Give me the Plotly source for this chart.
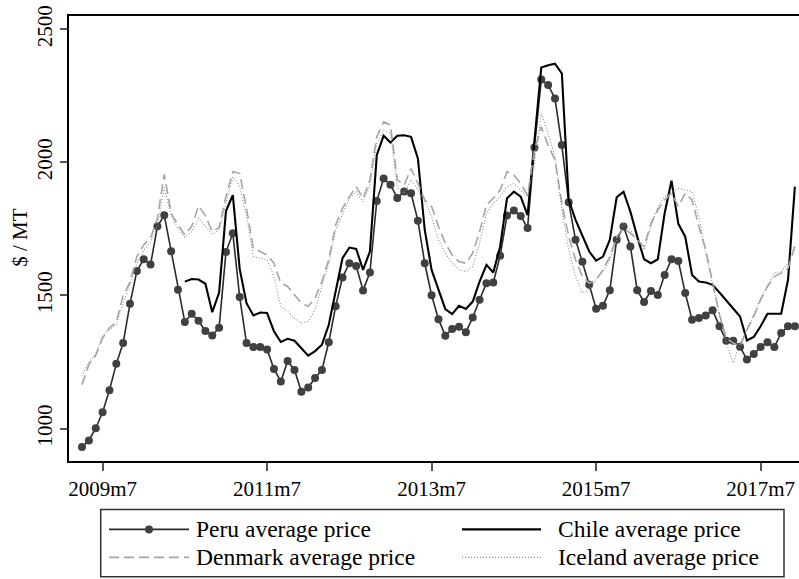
import pandas as pd
import plotly.graph_objects as go

# Monthly periods covered by the series
months = pd.period_range("2009-04", "2017-12", freq="M")
chile_months = pd.period_range("2010-07", "2017-12", freq="M")
base = pd.Period("2009-07", freq="M")

# Average prices, $ per metric ton
peru = [931, 955, 1001, 1061, 1144, 1243, 1321, 1469, 1592, 1636,
        1616, 1760, 1801, 1666, 1521, 1400, 1431, 1405, 1366, 1350,
        1379, 1663, 1734, 1494, 1321, 1306, 1306, 1297, 1224, 1177,
        1254, 1220, 1138, 1154, 1190, 1220, 1324, 1459, 1567, 1621,
        1611, 1519, 1586, 1855, 1939, 1916, 1866, 1891, 1884, 1781,
        1621, 1501, 1411, 1349, 1374, 1382, 1362, 1417, 1484, 1546,
        1549, 1649, 1800, 1819, 1799, 1753, 2056, 2311, 2291, 2240,
        2065, 1850, 1709, 1627, 1540, 1450, 1461, 1520, 1709, 1759,
        1684, 1520, 1475, 1517, 1502, 1577, 1636, 1629, 1509, 1409,
        1415, 1425, 1444, 1384, 1330, 1330, 1307, 1259, 1280, 1306,
        1324, 1306, 1359, 1384, 1384]

chile = [1552, 1562, 1560, 1544, 1437, 1511, 1817, 1877, 1600, 1471,
         1425, 1436, 1434, 1365, 1325, 1337, 1330, 1302, 1274, 1291,
         1315, 1390, 1509, 1640, 1680, 1675, 1596, 1665, 2027, 2100,
         2075, 2100, 2102, 2096, 2015, 1746, 1596, 1521, 1449, 1430,
         1461, 1449, 1477, 1552, 1615, 1586, 1684, 1865, 1890, 1871,
         1802, 2080, 2356, 2365, 2371, 2334, 1859, 1784, 1721, 1665,
         1631, 1646, 1709, 1869, 1890, 1815, 1721, 1636, 1621, 1636,
         1809, 1931, 1769, 1721, 1577, 1552, 1549, 1540, 1511, 1481,
         1452, 1421, 1331, 1344, 1384, 1431, 1431, 1431, 1559, 1909]

denmark = [1165, 1240, 1275, 1340, 1378, 1400, 1500, 1550, 1646, 1690,
           1715, 1790, 1955, 1809, 1765, 1728, 1760, 1836, 1800, 1740,
           1755, 1871, 1965, 1959, 1827, 1677, 1665, 1652, 1621, 1546,
           1534, 1502, 1471, 1459, 1490, 1552, 1634, 1765, 1827, 1871,
           1909, 1865, 1934, 2096, 2152, 2140, 1934, 1915, 1977, 1921,
           1859, 1834, 1759, 1696, 1652, 1627, 1621, 1659, 1740, 1840,
           1865, 1896, 1965, 1952, 1921, 1877, 2046, 2134, 2065, 2009,
           1846, 1721, 1634, 1571, 1546, 1559, 1596, 1646, 1721, 1752,
           1734, 1709, 1684, 1771, 1821, 1859, 1884, 1834, 1884, 1859,
           1759, 1671, 1546, 1427, 1340, 1321, 1309, 1371, 1421, 1484,
           1534, 1571, 1584, 1602, 1684]

iceland = [1196, 1250, 1280, 1350, 1372, 1390, 1470, 1540, 1620, 1670,
           1700, 1760, 1905, 1800, 1750, 1718, 1740, 1790, 1760, 1730,
           1745, 1850, 1946, 1909, 1796, 1646, 1640, 1634, 1571, 1459,
           1440, 1415, 1396, 1402, 1446, 1534, 1621, 1746, 1809, 1865,
           1890, 1852, 1915, 2071, 2120, 2110, 1905, 1884, 1934, 1896,
           1852, 1796, 1709, 1659, 1621, 1596, 1590, 1609, 1696, 1809,
           1846, 1871, 1909, 1921, 1896, 1871, 1996, 2184, 2109, 2021,
           1821, 1671, 1571, 1509, 1521, 1559, 1590, 1634, 1709, 1771,
           1746, 1709, 1671, 1759, 1834, 1871, 1890, 1902, 1896, 1890,
           1796, 1659, 1540, 1427, 1321, 1246, 1321, 1371, 1427, 1490,
           1534, 1584, 1590, 1621, 1690]

series_names = ["Peru average price", "Chile average price",
                "Denmark average price", "Iceland average price"]
x_tick_labels = ["2009m7", "2011m7", "2013m7", "2015m7", "2017m7"]
y_tick_values = [1000, 1500, 2000, 2500]
y_title = "$ / MT"


def month_number(p):
    return (p - base).n


def label_to_month(s):
    year, month = s.split("m")
    return (int(year) - base.year) * 12 + int(month) - base.month


x_all = [month_number(p) for p in months]
x_chile = [month_number(p) for p in chile_months]
x_tick_values = [label_to_month(s) for s in x_tick_labels]

# Page geometry (pixels); the plot region runs to the right page edge
W, H = 799, 579
PL, PR, PT, PB = 69, 799, 16, 461.5
FONT = "Liberation Serif, Times New Roman, serif"


def fx(px):
    return (px - PL) / (PR - PL)


def fy(py):
    return (PB - py) / (PB - PT)


GRAY_DASH = "#a6a6a6"
GRAY_DOT = "#8c8c8c"

styles = [
    dict(mode="lines+markers", line=dict(color="#2a2a2a", width=1.6),
         marker=dict(color="#404040", size=8, symbol="circle")),
    dict(mode="lines", line=dict(color="#000000", width=2.1)),
    dict(mode="lines", line=dict(color=GRAY_DASH, width=1.6, dash="10px,5px")),
    dict(mode="lines", line=dict(color=GRAY_DOT, width=1.1, dash="1px,2px")),
]
xs = [x_all, x_chile, x_all, x_all]
ys = [peru, chile, denmark, iceland]

fig = go.Figure()
for name, x, y, st in zip(series_names, xs, ys, styles):
    fig.add_trace(go.Scatter(x=x, y=y, name=name, showlegend=False, **st))

fig.update_layout(
    width=W, height=H,
    margin=dict(l=PL, r=W - PR, t=PT, b=H - PB),
    paper_bgcolor="white", plot_bgcolor="white",
    font=dict(family=FONT, size=21, color="black"),
)
fig.update_xaxes(
    range=[-4.9, 101.6],
    tickvals=x_tick_values, ticktext=x_tick_labels,
    showgrid=False, zeroline=False,
    showline=True, linecolor="black", linewidth=2, mirror=True,
    ticks="outside", ticklen=8, tickwidth=1.5, tickcolor="#555555",
    tickfont=dict(family=FONT, size=21, color="black"),
)
fig.update_yaxes(
    range=[878, 2550],
    tickvals=y_tick_values, ticktext=[str(v) for v in y_tick_values],
    tickangle=-90,
    showgrid=False, zeroline=False,
    showline=True, linecolor="black", linewidth=2, mirror=False,
    ticks="outside", ticklen=7, tickwidth=1.5, tickcolor="#555555",
    tickfont=dict(family=FONT, size=21, color="black"),
)

# Y axis title
fig.add_annotation(text=y_title, xref="paper", yref="paper",
                   x=fx(20), y=fy(238), textangle=-90, showarrow=False,
                   xanchor="center", yanchor="middle",
                   font=dict(family=FONT, size=21, color="black"))

# Legend box with two columns of keys
shapes = [dict(type="rect", xref="paper", yref="paper",
               x0=fx(100.7), x1=fx(784), y0=fy(510), y1=fy(577.5),
               line=dict(color="#333333", width=1.5), fillcolor="white",
               layer="above")]
rows = [530, 558]
cols = [(109, 189, 194), (462, 541, 556)]
for i, (name, st) in enumerate(zip(series_names, styles)):
    r, c = divmod(i, 2)
    x0, x1, tx = cols[c]
    yy = rows[r]
    ln = st["line"]
    shapes.append(dict(type="line", xref="paper", yref="paper",
                       x0=fx(x0), x1=fx(x1), y0=fy(yy), y1=fy(yy),
                       line=dict(color=ln["color"], width=ln["width"],
                                 dash=ln.get("dash", "solid")),
                       layer="above"))
    if "marker" in st:
        cx = (x0 + x1) / 2
        rad = st["marker"]["size"] / 2
        shapes.append(dict(type="circle", xref="paper", yref="paper",
                           x0=fx(cx - rad), x1=fx(cx + rad),
                           y0=fy(yy + rad), y1=fy(yy - rad),
                           fillcolor=st["marker"]["color"],
                           line=dict(width=0), layer="above"))
    fig.add_annotation(text=name, xref="paper", yref="paper",
                       x=fx(tx), y=fy(yy), xanchor="left", yanchor="middle",
                       showarrow=False,
                       font=dict(family=FONT, size=23.5, color="black"))
fig.update_layout(shapes=shapes)

fig.write_html("out.html")
